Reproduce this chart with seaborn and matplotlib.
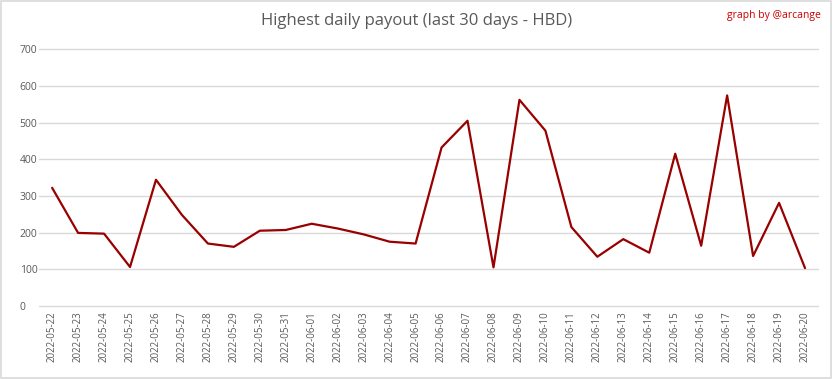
import pandas as pd
import matplotlib.pyplot as plt
import seaborn as sns

# Data
dates = [
    "2022-05-22", "2022-05-23", "2022-05-24", "2022-05-25", "2022-05-26",
    "2022-05-27", "2022-05-28", "2022-05-29", "2022-05-30", "2022-05-31",
    "2022-06-01", "2022-06-02", "2022-06-03", "2022-06-04", "2022-06-05",
    "2022-06-06", "2022-06-07", "2022-06-08", "2022-06-09", "2022-06-10",
    "2022-06-11", "2022-06-12", "2022-06-13", "2022-06-14", "2022-06-15",
    "2022-06-16", "2022-06-17", "2022-06-18", "2022-06-19", "2022-06-20",
]
payout = [
    322, 199, 197, 106, 344,
    248, 170, 161, 205, 207,
    224, 211, 195, 175, 170,
    432, 505, 105, 562, 478,
    215, 134, 182, 145, 415,
    164, 574, 136, 281, 103,
]
yticks = [0, 100, 200, 300, 400, 500, 600, 700]

df = pd.DataFrame({"date": dates, "payout": payout})

sns.set_style("white")
plt.rcParams["font.family"] = ["Open Sans", "DejaVu Sans"]

fig = plt.figure(figsize=(8.33, 3.79), dpi=100)
ax = fig.add_axes([0.047, 0.193, 0.935, 0.677])

sns.lineplot(data=df, x="date", y="payout", color="#990000", linewidth=1.6, ax=ax)

ax.set_xlim(-0.5, len(dates) - 0.5)
ax.set_ylim(0, 700)
ax.set_yticks(yticks)
ax.yaxis.grid(True, color="#d9d9d9", linewidth=1)
for gl in ax.get_ygridlines():
    gl.set_clip_on(False)
ax.set_axisbelow(True)
for s in ax.spines.values():
    s.set_visible(False)

ax.set_xticks(range(len(dates)))
ax.set_xticklabels(dates, rotation=90, fontsize=7, color="#595959")
ax.tick_params(axis="y", labelsize=7.5, labelcolor="#595959", length=0, pad=14)
ax.tick_params(axis="x", length=0, pad=4)
for lbl in ax.get_yticklabels():
    lbl.set_horizontalalignment("left")
ax.set_xlabel("")
ax.set_ylabel("")

fig.text(0.5, 0.945, "Highest daily payout (last 30 days - HBD)", ha="center", va="center",
         fontsize=12, color="#595959")
fig.text(0.985, 0.96, "graph by @arcange", ha="right", va="center",
         fontsize=7.5, color="#cc0000")

# light border round the figure
fig.patches.append(plt.Rectangle((0.001, 0.002), 0.997, 0.995, transform=fig.transFigure,
                                 fill=False, edgecolor="#d9d9d9", linewidth=1.2))

fig.savefig("out.png", dpi=100)
